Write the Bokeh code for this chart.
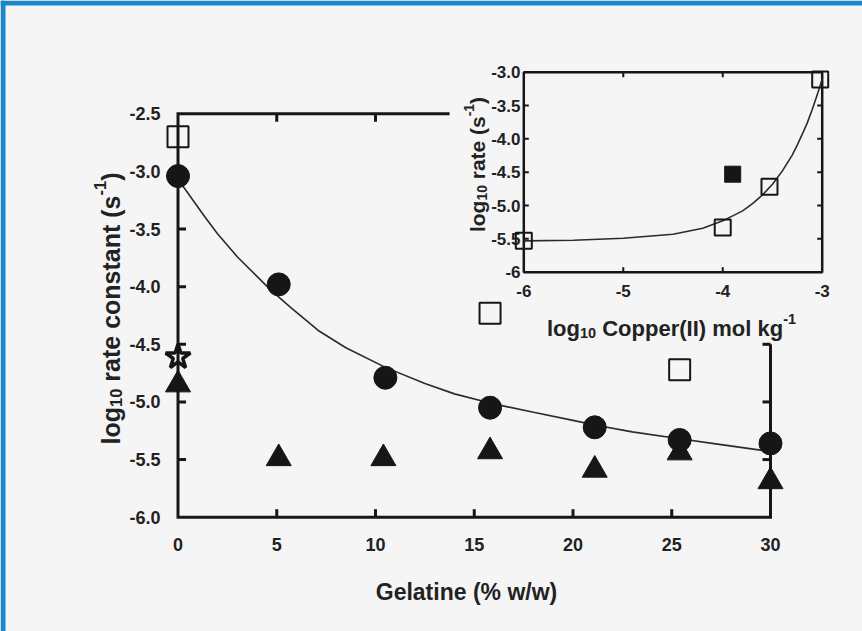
from math import pi

from bokeh.core.properties import value
from bokeh.embed import file_html
from bokeh.models import Label, Range1d
from bokeh.plotting import figure
from bokeh.resources import INLINE

# ---------------------------------------------------------------- data
# Main panel: log10 rate constant against gelatine content
gel_circle = [0, 5.1, 10.5, 15.8, 21.1, 25.4, 30]
logk_circle = [-3.04, -3.98, -4.79, -5.05, -5.22, -5.33, -5.36]

gel_triangle = [0, 5.1, 10.4, 15.8, 21.1, 25.4, 30]
logk_triangle = [-4.85, -5.49, -5.49, -5.43, -5.59, -5.44, -5.69]

gel_star = [0]
logk_star = [-4.61]

gel_square = [0, 15.8, 25.4]
logk_square = [-2.70, -4.23, -4.72]

# fitted decay through the filled circles
fit_gel = [0, 0.3, 1.3, 2.0, 3.0, 4.0, 4.7, 5.7, 7.1, 8.5, 10.5, 12.5, 14.0,
           15.8, 18.0, 20.0, 21.1, 23.0, 25.4, 27.5, 30.0]
fit_logk = [-3.06, -3.14, -3.38, -3.54, -3.74, -3.91, -4.03, -4.18, -4.38,
            -4.53, -4.70, -4.84, -4.93, -5.01, -5.09, -5.16, -5.20, -5.26,
            -5.32, -5.37, -5.43]

main_xticks = [0, 5, 10, 15, 20, 25, 30]
main_xtick_labels = ["0", "5", "10", "15", "20", "25", "30"]
main_yticks = [-6.0, -5.5, -5.0, -4.5, -4.0, -3.5, -3.0, -2.5]
main_ytick_labels = ["-6.0", "-5.5", "-5.0", "-4.5", "-4.0", "-3.5", "-3.0", "-2.5"]

# Inset: log10 rate against log10 copper(II) concentration
cu_open = [-6.0, -4.0, -3.53, -3.02]
rate_open = [-5.53, -5.33, -4.72, -3.11]
cu_filled = [-3.9]
rate_filled = [-4.53]

fit_cu = [-6.0, -5.5, -5.0, -4.5, -4.2, -4.0, -3.8, -3.7, -3.6, -3.5, -3.4,
          -3.3, -3.25, -3.2, -3.15, -3.1, -3.05, -3.0]
fit_rate = [-5.53, -5.52, -5.49, -5.43, -5.34, -5.23, -5.08, -4.97, -4.84,
            -4.68, -4.48, -4.24, -4.09, -3.93, -3.76, -3.56, -3.34, -3.10]

inset_xticks = [-6, -5, -4, -3]
inset_xtick_labels = ["-6", "-5", "-4", "-3"]
inset_yticks = [-6.0, -5.5, -5.0, -4.5, -4.0, -3.5, -3.0]
inset_ytick_labels = ["-6", "-5.5", "-5.0", "-4.5", "-4.0", "-3.5", "-3.0"]

# ---------------------------------------------------------------- layout
W, H = 862, 631
EDGE = 5                      # coloured strip on the left and top
PAPER = "#f5f5f5"
EDGE_COLOR = "#1a86c8"
INK = "#161616"
TEXT = "#222222"
FONT = "Liberation Sans"

# (value, pixel) anchors of each coordinate system
MAIN_X = (0.0, 177.5, 30.0, 770.0)
MAIN_Y = (-2.5, 113.3, -6.0, 516.7)
INSET_X = (-6.0, 523.3, -3.0, 821.7)
INSET_Y = (-3.0, 71.7, -6.0, 271.7)

TOP_AXIS_END = 13.75          # the upper main axis stops short of the inset
RIGHT_AXIS_TOP = -4.5         # the right main axis starts below the inset


def lin(anchor):
    v0, p0, v1, p1 = anchor
    k = (v1 - v0) / (p1 - p0)
    return lambda px: v0 + (px - p0) * k


mx, my = lin(MAIN_X), lin(MAIN_Y)
ix, iy = lin(INSET_X), lin(INSET_Y)

p = figure(
    width=W, height=H,
    x_range=Range1d(mx(0), mx(W)),
    y_range=Range1d(my(H), my(0)),
    x_axis_type=None, y_axis_type=None,
    toolbar_location=None, output_backend="svg",
    min_border=0,
    background_fill_color=PAPER, border_fill_color=PAPER,
    outline_line_color=None,
)
p.extra_x_ranges = {"ix": Range1d(ix(0), ix(W))}
p.extra_y_ranges = {"iy": Range1d(iy(H), iy(0))}
INSET = dict(x_range_name="ix", y_range_name="iy")

# coloured page edge, left and top
p.quad(left=[mx(0), mx(0)], right=[mx(EDGE), mx(W)],
       bottom=[my(H), my(EDGE)], top=[my(0), my(0)],
       fill_color=EDGE_COLOR, line_color=None)

# ---------------------------------------------------------------- main axes
x0, x1 = main_xticks[0], main_xticks[-1]
y0, y1 = main_yticks[0], main_yticks[-1]
p.line(x=[TOP_AXIS_END, x0, x0, x1, x1], y=[y1, y1, y0, y0, RIGHT_AXIS_TOP],
       line_color=INK, line_width=3, line_join="miter")

TICK = 8
inner_y = main_yticks[1:-1]
inner_x = main_xticks[1:-1]
p.ray(x=[x0] * len(inner_y), y=inner_y, length=TICK, length_units="screen",
      angle=0, line_color=INK, line_width=3)
p.ray(x=inner_x, y=[y0] * len(inner_x), length=TICK, length_units="screen",
      angle=pi / 2, line_color=INK, line_width=3)
top_x = [t for t in inner_x if t < TOP_AXIS_END]
p.ray(x=top_x, y=[y1] * len(top_x), length=TICK, length_units="screen",
      angle=-pi / 2, line_color=INK, line_width=3)
right_y = [t for t in main_yticks if y0 < t <= RIGHT_AXIS_TOP]
p.ray(x=[x1] * len(right_y), y=right_y, length=TICK, length_units="screen",
      angle=pi, line_color=INK, line_width=3)

tick_font = dict(text_font=value(FONT), text_font_style="bold",
                 text_color=TEXT, text_baseline="middle")
p.text(x=[mx(160)] * len(main_yticks), y=main_yticks, text=main_ytick_labels,
       text_align="right", text_font_size="18px", **tick_font)
p.text(x=main_xticks, y=[my(543.5)] * len(main_xticks), text=main_xtick_labels,
       text_align="center", text_font_size="18px", **tick_font)

# ---------------------------------------------------------------- main data
p.line(x=fit_gel, y=fit_logk, line_color="#2b2b2b", line_width=1.6)
p.scatter(x=gel_triangle, y=logk_triangle, marker="triangle", size=25,
          fill_color=INK, line_color=INK)
p.scatter(x=gel_circle, y=logk_circle, marker="circle", size=23,
          fill_color=INK, line_color=INK)
p.scatter(x=gel_star, y=logk_star, marker="star", size=26,
          fill_color=None, line_color=INK, line_width=3.5)
p.scatter(x=gel_square, y=logk_square, marker="square", size=21,
          fill_color=None, line_color=INK, line_width=2)

# ---------------------------------------------------------------- inset
p.quad(left=[inset_xticks[0]], right=[inset_xticks[-1]],
       bottom=[inset_yticks[0]], top=[inset_yticks[-1]],
       fill_color=None, line_color=INK, line_width=2.5, **INSET)

ITICK = 5
iin_x = inset_xticks[1:-1]
iin_y = inset_yticks[1:-1]
for xe, ang in ((inset_xticks[0], 0), (inset_xticks[-1], pi)):
    p.ray(x=[xe] * len(iin_y), y=iin_y, length=ITICK, length_units="screen",
          angle=ang, line_color=INK, line_width=2, **INSET)
for ye, ang in ((inset_yticks[0], pi / 2), (inset_yticks[-1], -pi / 2)):
    p.ray(x=iin_x, y=[ye] * len(iin_x), length=ITICK, length_units="screen",
          angle=ang, line_color=INK, line_width=2, **INSET)

p.text(x=[ix(520)] * len(inset_yticks), y=inset_yticks, text=inset_ytick_labels,
       text_align="right", text_font_size="17px", **tick_font, **INSET)
p.text(x=inset_xticks, y=[iy(290.7)] * len(inset_xticks), text=inset_xtick_labels,
       text_align="center", text_font_size="17px", **tick_font, **INSET)

p.line(x=fit_cu, y=fit_rate, line_color="#2b2b2b", line_width=1.6, **INSET)
p.scatter(x=cu_filled, y=rate_filled, marker="square", size=16,
          fill_color=INK, line_color=INK, **INSET)
p.scatter(x=cu_open, y=rate_open, marker="square", size=16,
          fill_color=None, line_color=INK, line_width=2, **INSET)

# ---------------------------------------------------------------- titles
# advance widths of the bold sans face, per 1000 units of em
ADV = {" ": 278, "(": 333, ")": 333, "-": 333, ".": 278, "/": 278, "%": 889,
       "a": 556, "b": 611, "c": 556, "d": 611, "e": 556, "f": 333, "g": 611,
       "h": 611, "i": 278, "k": 556, "l": 278, "m": 889, "n": 611, "o": 611,
       "p": 611, "r": 389, "s": 556, "t": 333, "u": 611, "w": 778,
       "C": 722, "G": 778, "I": 278}


def rich_title(parts, px, py, size, rotated=False):
    """Centred title built from base / subscript / superscript runs."""
    small = 0.66
    runs, along = [], 0.0
    for text, role in parts:
        fs = size * (1.0 if role == "base" else small)
        lead = len(text) - len(text.lstrip(" "))
        along += lead * ADV[" "] * fs / 1000
        body = text.strip(" ")
        runs.append((body, fs, role, along))
        along += sum(ADV.get(c, 556) for c in body) * fs / 1000
    total = along
    for body, fs, role, pos in runs:
        rise = {"base": 0.0, "sub": -0.22 * size, "sup": 0.42 * size}[role]
        d = pos - total / 2
        if rotated:
            sx, sy = px - rise, py - d
        else:
            sx, sy = px + d, py - rise
        p.add_layout(Label(
            x=mx(sx), y=my(sy), text=body, angle=pi / 2 if rotated else 0,
            text_font=FONT, text_font_style="bold", text_font_size=f"{fs:.1f}px",
            text_color=TEXT, text_align="left", text_baseline="alphabetic"))


rich_title([("Gelatine (% w/w)", "base")], 466, 591, 23)
rich_title([("log", "base"), ("10", "sub"), (" rate constant (s", "base"),
            ("-1", "sup"), (")", "base")], 110, 308, 25, rotated=True)
rich_title([("log", "base"), ("10", "sub"), (" Copper(II) mol kg", "base"),
            ("-1", "sup")], 671, 328, 22)
rich_title([("log", "base"), ("10", "sub"), (" rate (s", "base"),
            ("-1", "sup"), (")", "base")], 477, 164, 21, rotated=True)

open("out.html", "w").write(file_html(p, INLINE))
